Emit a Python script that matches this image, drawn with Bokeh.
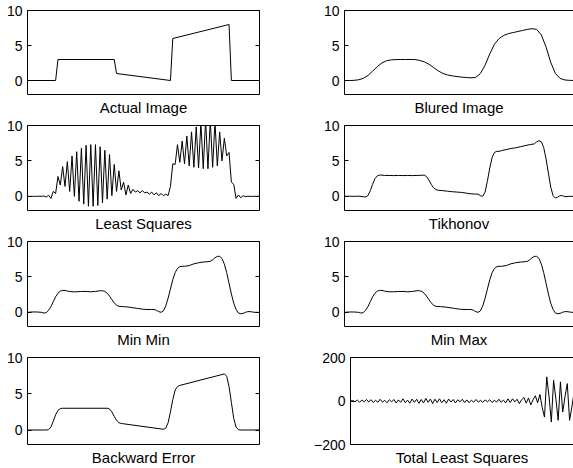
from bokeh.plotting import figure
from bokeh.layouts import column, row
from bokeh.models import LinearAxis, FixedTicker, Range1d
from bokeh.embed import file_html
from bokeh.resources import INLINE

FONT = "Liberation Sans"

# ---------------- data ----------------
actual_x = [1, 13, 14, 38, 39, 62, 63, 87, 88, 100]
actual_y = [0, 0, 3, 3, 1, 0, 6, 8, 0, 0]

blur_x = [1, 3, 5, 7, 9, 11, 13, 15, 17, 19, 21, 23, 25, 27, 29, 31, 33, 35, 37, 39,
          41, 43, 45, 47, 49, 51, 53, 55, 57, 59, 61, 63, 65, 67, 69, 71, 73, 75, 77, 79,
          81, 83, 85, 87, 89, 91, 93, 95, 97, 99, 100]
blur_y = [0, 0, 0.02, 0.1, 0.3, 0.71, 1.33, 2.0, 2.52, 2.83, 2.95, 2.99, 3.0, 3.0, 3.0, 3.0, 2.88, 2.68, 2.33, 1.87,
          1.37, 1.01, 0.79, 0.66, 0.57, 0.48, 0.42, 0.38, 0.45, 1.0, 2.2, 3.8, 5.2, 6.0, 6.45, 6.7, 6.85, 7.0, 7.15, 7.3,
          7.4, 7.3, 6.5, 4.8, 2.6, 1.0, 0.3, 0.08, 0.02, 0, 0]

ls_y = [0, 0, 0, 0, 0, 0.02, 0, 0.05, -0.1, 0.15,
        -0.3, 0.7, 0.4, 2.8, 1.6, 4.2, 1.4, 4.9, 0.7, 5.7,
        0.0, 6.3, -0.7, 6.8, -1.1, 7.2, -1.4, 7.3, -1.4, 7.3,
        -1.3, 7.0, -0.9, 6.5, -0.4, 5.9, 0.1, 4.5, 0.7, 3.6,
        0.9, 2.0, 0.2, 1.6, 0.4, 1.0, 0.6, 0.8, 0.5, 0.8,
        0.5, 0.6, 0.3, 0.6, 0.2, 0.5, 0.1, 0.4, 0.1, 0.3,
        0.1, 1.4, 4.6, 4.5, 7.3, 4.8, 7.8, 4.6, 8.5, 4.3,
        9.1, 4.1, 9.8, 4.0, 10.4, 3.9, 10.8, 3.9, 10.8, 4.1,
        10.5, 4.3, 9.1, 5.0, 8.2, 5.7, 6.2, 2.0, 1.7, -0.3,
        0.2, -0.2, 0.1, -0.05, 0, 0, 0, 0, 0, 0]
ls_x = list(range(1, 101))

tik_x = [1, 3, 5, 7, 9, 10, 11, 12, 13, 14, 15, 16, 17, 18, 20, 22, 24, 26, 28, 30,
         32, 34, 35, 36, 37, 38, 39, 40, 41, 43, 45, 47, 49, 51, 53, 55, 57, 58, 59, 60,
         61, 62, 63, 64, 65, 66, 67, 68, 70, 72, 74, 76, 78, 80, 81, 82, 83, 84, 85, 86,
         87, 88, 89, 90, 91, 92, 93, 94, 95, 97, 100]
tik_y = [0.0, 0.02, 0.0, 0.02, -0.05, -0.1, 0.1, 0.8, 1.7, 2.5, 2.9, 3.0, 3.0, 2.95, 2.95, 2.93, 2.95, 2.93, 2.95, 2.93,
         2.95, 2.97, 3.0, 2.8, 2.3, 1.7, 1.2, 0.95, 0.85, 0.8, 0.72, 0.65, 0.6, 0.55, 0.45, 0.35, 0.32, 0.3, 0.1, 0.0,
         0.6, 2.2, 4.0, 5.5, 6.2, 6.35, 6.35, 6.45, 6.6, 6.75, 6.85, 7.0, 7.15, 7.3, 7.35, 7.4, 7.7, 7.85, 7.7, 6.9,
         5.3, 3.3, 1.3, 0.1, -0.25, -0.1, 0.1, 0.1, -0.05, 0.0, 0.0]

minmin_x = [1, 3, 5, 7, 8, 9, 10, 11, 12, 13, 14, 15, 16, 17, 18, 20, 22, 24, 26, 28,
            30, 32, 33, 34, 35, 36, 37, 38, 39, 40, 42, 44, 46, 48, 50, 52, 54, 55, 56, 57,
            58, 59, 60, 61, 62, 63, 64, 65, 66, 67, 68, 70, 72, 74, 76, 78, 79, 80, 81, 82,
            83, 84, 85, 86, 87, 88, 89, 90, 91, 92, 93, 94, 95, 96, 97, 98, 100]
minmin_y = [0.0, 0.05, 0.05, 0.0, -0.1, -0.05, 0.3, 0.8, 1.5, 2.2, 2.7, 3.0, 3.1, 3.1, 3.0, 2.9, 2.9, 2.95, 2.95, 2.9,
            2.95, 3.05, 3.05, 2.95, 2.7, 2.3, 1.8, 1.35, 1.0, 0.85, 0.8, 0.75, 0.65, 0.55, 0.45, 0.4, 0.4, 0.4, 0.3, 0.1,
            0.0, 0.2, 0.9, 2.0, 3.3, 4.6, 5.6, 6.2, 6.45, 6.5, 6.5, 6.6, 6.85, 7.0, 7.1, 7.15, 7.2, 7.4, 7.7, 7.9,
            7.9, 7.6, 6.8, 5.6, 4.1, 2.6, 1.3, 0.4, -0.1, -0.2, -0.15, 0.0, 0.1, 0.1, 0.05, 0.0, 0.0]

minmax_x = [1, 3, 5, 7, 8, 9, 10, 11, 12, 13, 14, 15, 16, 17, 18, 20, 22, 24, 26, 28,
            30, 32, 33, 34, 35, 36, 37, 38, 39, 40, 42, 44, 46, 48, 50, 52, 54, 55, 56, 57,
            58, 59, 60, 61, 62, 63, 64, 65, 66, 67, 68, 70, 72, 74, 76, 78, 79, 80, 81, 82,
            83, 84, 85, 86, 87, 88, 89, 90, 91, 92, 93, 94, 95, 96, 97, 98, 100]
minmax_y = [0.0, 0.05, 0.05, 0.0, -0.1, -0.05, 0.3, 0.8, 1.5, 2.2, 2.7, 3.0, 3.1, 3.1, 3.0, 2.9, 2.9, 2.95, 2.95, 2.9,
            2.95, 3.05, 3.05, 2.95, 2.7, 2.3, 1.8, 1.35, 1.0, 0.85, 0.8, 0.75, 0.65, 0.55, 0.45, 0.4, 0.4, 0.4, 0.3, 0.1,
            0.0, 0.2, 0.9, 2.0, 3.3, 4.6, 5.6, 6.2, 6.45, 6.5, 6.5, 6.6, 6.85, 7.0, 7.1, 7.15, 7.2, 7.4, 7.7, 7.9,
            7.9, 7.6, 6.8, 5.6, 4.1, 2.6, 1.3, 0.4, -0.1, -0.2, -0.15, 0.0, 0.1, 0.1, 0.05, 0.0, 0.0]

be_x = [1, 9, 10, 11, 12, 13, 14, 15, 16, 35, 36, 37, 38, 39, 40, 41, 59, 60, 61, 62,
        63, 64, 65, 66, 84, 85, 86, 87, 88, 89, 90, 91, 92, 100]
be_y = [0, 0, 0.05, 0.4, 1.2, 2.1, 2.7, 2.95, 3.0, 3.0, 2.9, 2.5, 1.9, 1.35, 1.0, 0.9, 0.1, 0.25, 1.0, 2.5,
        4.2, 5.5, 6.0, 6.15, 7.65, 7.75, 7.4, 6.0, 3.8, 1.6, 0.4, 0.05, 0, 0]

tls_x = list(range(1, 101))
tls_y = [0, 2, -3, 4, -6, 5, -4, 7, -5, 6,
         -7, 4, -6, 8, -5, 3, -8, 6, -4, 7,
         -9, 5, -6, 10, -8, 4, -10, 9, -6, 8,
         -11, 7, -9, 12, -6, 9, -12, 8, -7, 10,
         -8, 6, -10, 9, -5, 7, -9, 6, -4, 8,
         -7, 5, -8, 4, -6, 7, -5, 3, -6, 5,
         -4, 6, -7, 3, -5, 8, -6, 4, -9, 10,
         -7, 10, -4, 8, -12, 6, 16, -10, 14, -18,
         6, 24, -8, 30, -30, -74, 111, 20, -97, 95,
         10, -89, 88, -51, 20, 80, -89, -28, 40, -20]

labels = ["Actual Image", "Blured Image", "Least Squares", "Tikhonov",
          "Min Min", "Min Max", "Backward Error", "Total Least Squares"]
series = [(actual_x, actual_y), (blur_x, blur_y), (ls_x, ls_y), (tik_x, tik_y),
          (minmin_x, minmin_y), (minmax_x, minmax_y), (be_x, be_y), (tls_x, tls_y)]
y_limits = [(-2, 10)] * 7 + [(-200, 200)]
y_ticks = [[0, 5, 10]] * 7 + [[-200, 0, 200]]

# ---------------- layout ----------------
FRAME_H = 87
LEFT_FRAME_W = 232
RIGHT_FRAME_W = 229
X_END_RIGHT = 1 + 99 * RIGHT_FRAME_W / LEFT_FRAME_W
row_tops = [10, 7, 7, 7]
row_bottoms = [21, 22, 22, 24]


def make(idx):
    r, c = divmod(idx, 2)
    xs, ys = series[idx]
    top, bot = row_tops[r], row_bottoms[r]
    if c == 0:
        bl, br, fw, x_end = 27, 51, LEFT_FRAME_W, 100
    else:
        bl, br, fw, x_end = 34, 0, RIGHT_FRAME_W, X_END_RIGHT
    p = figure(width=bl + fw + br, height=top + FRAME_H + bot,
               x_range=Range1d(1, x_end), y_range=Range1d(*y_limits[idx]),
               output_backend="svg", toolbar_location=None,
               min_border_left=bl, min_border_right=br,
               min_border_top=top, min_border_bottom=bot,
               background_fill_color="white", border_fill_color="white")
    p.xgrid.visible = False
    p.ygrid.visible = False
    if c == 0:
        p.outline_line_color = "black"
        p.outline_line_width = 1
    else:
        p.outline_line_color = None

    xa = p.xaxis[0]
    xa.ticker = FixedTicker(ticks=[])
    xa.axis_label = labels[idx]
    xa.axis_label_text_font = FONT
    xa.axis_label_text_font_size = "15px"
    xa.axis_label_text_font_style = "normal"
    xa.axis_label_text_color = "black"
    xa.axis_label_standoff = 4
    xa.axis_line_color = "black" if c == 1 else None
    xa.major_tick_line_color = None
    xa.minor_tick_line_color = None

    ya = p.yaxis[0]
    ya.ticker = FixedTicker(ticks=y_ticks[idx])
    ya.major_label_text_font = FONT
    ya.major_label_text_font_size = "14px"
    ya.major_label_text_color = "black"
    ya.major_tick_in = 4
    ya.major_tick_out = 0
    ya.major_tick_line_color = "black"
    ya.minor_tick_line_color = None
    ya.major_label_standoff = 5
    ya.axis_line_color = "black" if c == 1 else None

    if c == 0:
        ra = LinearAxis(ticker=FixedTicker(ticks=y_ticks[idx]),
                        major_label_overrides={t: "" for t in y_ticks[idx]},
                        major_tick_in=4, major_tick_out=0,
                        minor_tick_line_color=None, axis_line_color=None,
                        major_label_text_font_size="1px")
        p.add_layout(ra, "right")
    else:
        ta = LinearAxis(ticker=FixedTicker(ticks=[]), axis_line_color="black",
                        major_tick_line_color=None, minor_tick_line_color=None)
        p.add_layout(ta, "above")

    p.line(xs, ys, line_color="black", line_width=1)
    return p


figs = [make(i) for i in range(8)]
layout = column(*[row(figs[2 * r], figs[2 * r + 1]) for r in range(4)])

open("out.html", "w").write(file_html(layout, INLINE))
